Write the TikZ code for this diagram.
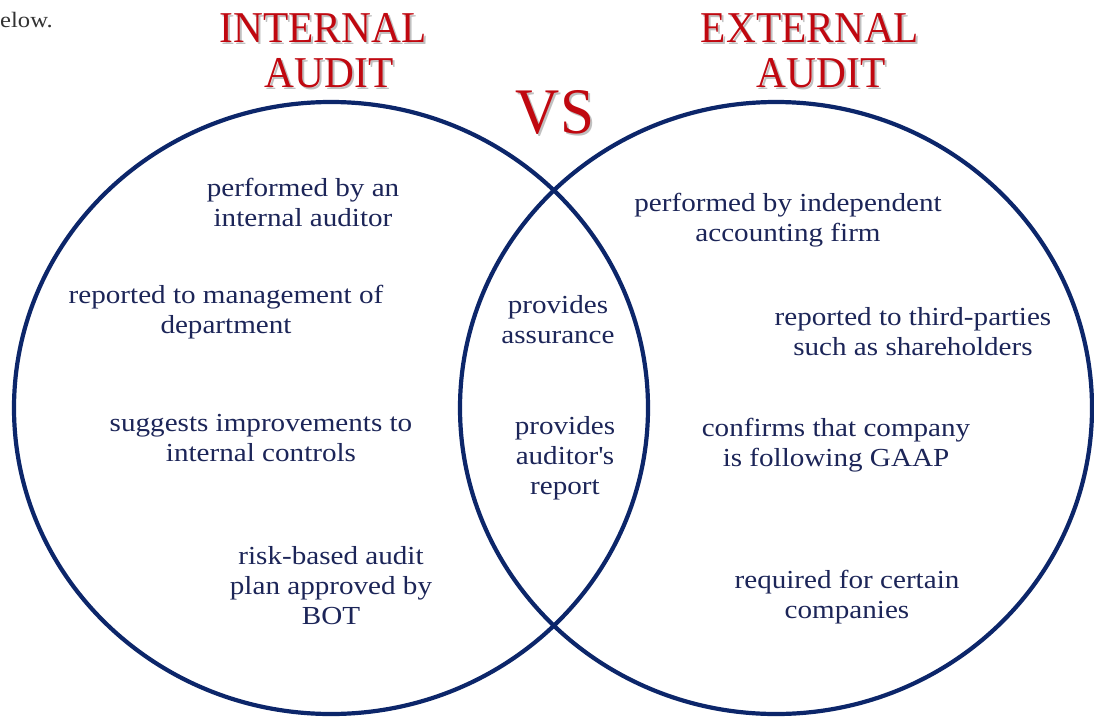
\documentclass[tikz,border=0pt]{standalone}
\usepackage{fontspec}
\setmainfont{Liberation Serif}[FakeStretch=1.12]
\newfontfamily\titlefont{Liberation Serif}[FakeStretch=0.94]
\definecolor{circ}{RGB}{12,38,106}
\definecolor{txt}{RGB}{28,37,88}
\definecolor{ttl}{RGB}{192,8,16}
\definecolor{shd}{RGB}{150,150,150}
\begin{document}
\begin{tikzpicture}[x=1pt,y=-1pt,
  venn/.style={draw=circ,line width=4.2pt},
  body/.style={text=txt,align=center,font=\fontsize{26}{30}\selectfont,inner sep=0pt},
  ttlA/.style={text=ttl,anchor=base,inner sep=0pt,font=\titlefont\fontsize{44}{44}\selectfont},
  ttlS/.style={text=shd,opacity=0.6,anchor=base,inner sep=0pt,font=\titlefont\fontsize{44}{44}\selectfont},
  vsA/.style={text=ttl,anchor=base,inner sep=0pt,font=\titlefont\fontsize{65}{65}\selectfont},
  vsS/.style={text=shd,opacity=0.6,anchor=base,inner sep=0pt,font=\titlefont\fontsize{65}{65}\selectfont},
  lead/.style={text=black!80,anchor=base west,inner sep=0pt,font=\fontsize{22}{26}\selectfont}]
\useasboundingbox (0,0) rectangle (1094,717);
\fill[white] (0,0) rectangle (1094,717);
% circles
\draw[venn] (331,408) ellipse [x radius=317, y radius=306];
\draw[venn] (776,408) ellipse [x radius=316, y radius=306];
% leading fragment
\node[lead] (elow) at (0,28) {elow.};
% titles
\node[ttlS] (intS) at (325,45) {INTERNAL};
\node[ttlA] (int) at (323,43) {INTERNAL};
\node[ttlS] (intAS) at (331,89) {AUDIT};
\node[ttlA] (intA) at (329,87) {AUDIT};
\node[ttlS] (extS) at (812,45) {EXTERNAL};
\node[ttlA] (ext) at (810,43) {EXTERNAL};
\node[ttlS] (extAS) at (823,89) {AUDIT};
\node[ttlA] (extA) at (821,87) {AUDIT};
\node[vsS] (vsS) at (557,135) {VS};
\node[vsA] (vs) at (555,133) {VS};
% left texts
\node[body] (l1) at (303,202) {performed by an\\internal auditor};
\node[body] (l2) at (226,312) {reported to management of\\department};
\node[body] (l3) at (261,438) {suggests improvements to\\internal controls};
\node[body] (l4) at (331,586) {risk-based audit\\plan approved by\\BOT};
% middle texts
\node[body] (m1) at (558,320) {provides\\assurance};
\node[body] (m2) at (565,458) {provides\\auditor\textquotesingle s\\report};
% right texts
\node[body] (r1) at (788,220) {performed by independent\\accounting firm};
\node[body] (r2) at (913,332) {reported to third-parties\\such as shareholders};
\node[body] (r3) at (836,445) {confirms that company\\is following GAAP};
\node[body] (r4) at (847,597) {required for certain\\companies};
\end{tikzpicture}
\end{document}
